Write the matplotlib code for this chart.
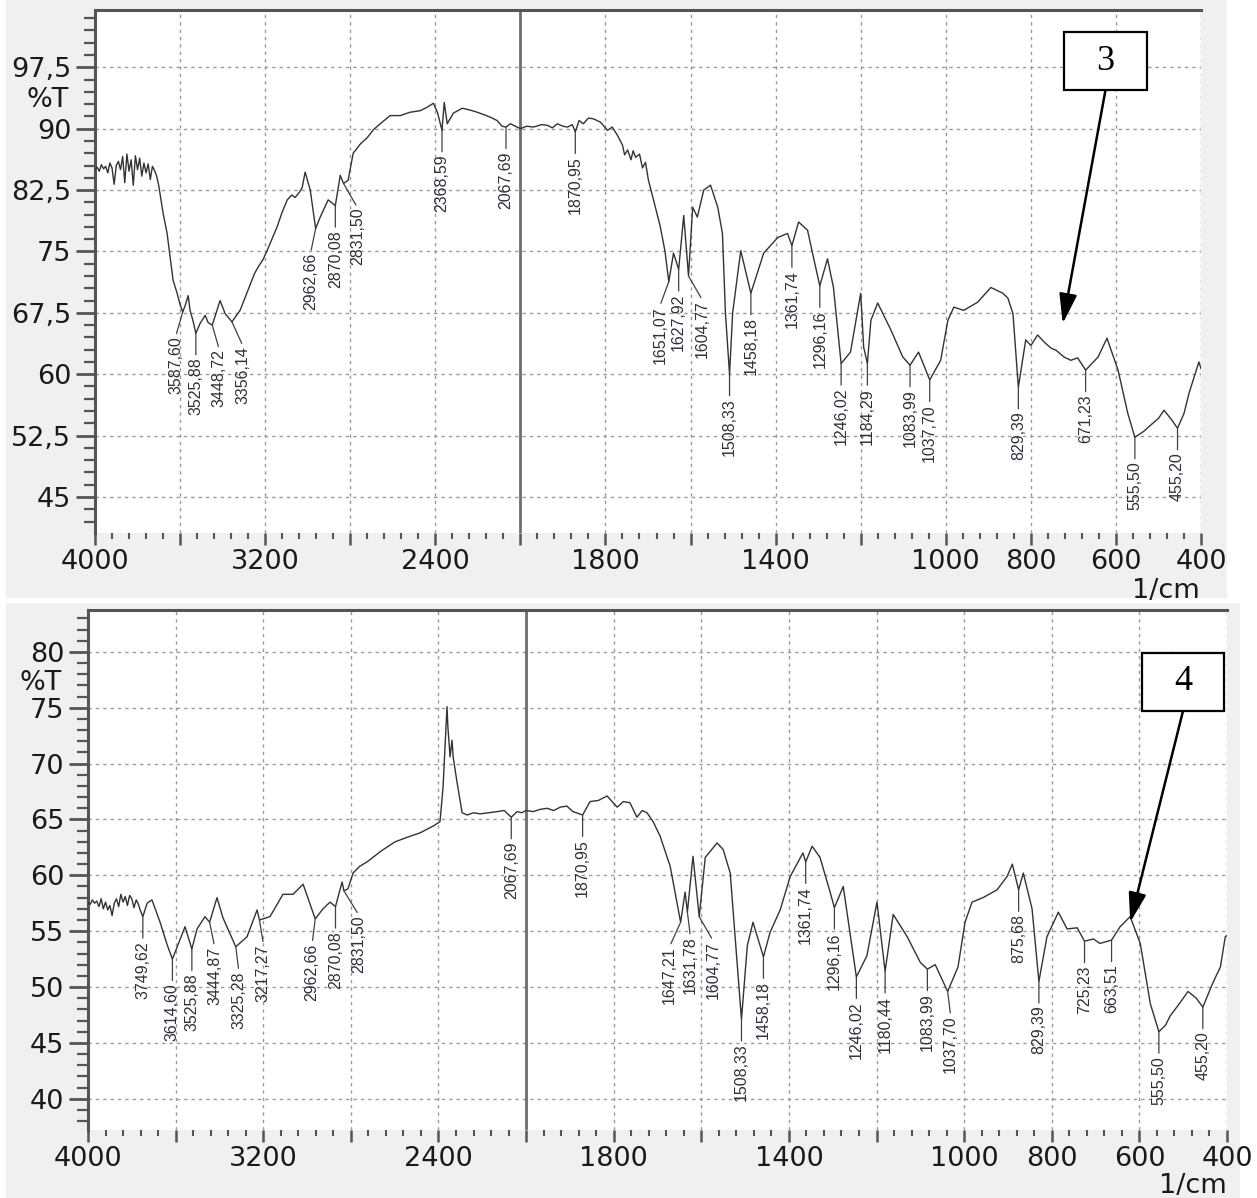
import numpy as np
import matplotlib
matplotlib.use("Agg")
import matplotlib.pyplot as plt
from matplotlib.patches import Rectangle

# ---- spectrum 3 (upper panel): wavenumber [1/cm], transmittance [%T] ----
wn3 = [4000, 3990, 3980, 3970, 3960, 3950, 3940, 3930, 3920, 3910, 3900, 3890, 3880, 3870,
       3860, 3850, 3840, 3830, 3820, 3810, 3800, 3790, 3780, 3770, 3760, 3750, 3740, 3730,
       3720, 3710, 3700, 3680, 3661, 3633, 3614, 3600, 3587.6, 3576, 3562, 3553, 3539,
       3525.88, 3506, 3482, 3468, 3448.72, 3412, 3388, 3356.14, 3318, 3280, 3250, 3233,
       3210, 3191, 3170, 3144, 3120, 3096, 3075, 3059, 3040, 3026, 3012, 2988, 2962.66,
       2941, 2904, 2870.08, 2847, 2831.5, 2810, 2786, 2750, 2720, 2690, 2659, 2612, 2565,
       2520, 2471, 2440, 2409, 2390, 2368.59, 2358, 2344, 2315, 2273, 2240, 2202, 2170,
       2141, 2110, 2086, 2067.69, 2047, 2024, 2000, 1985, 1969, 1950, 1936, 1925, 1913,
       1900, 1889, 1878, 1870.95, 1862, 1852, 1840, 1828, 1812, 1795, 1784, 1772, 1760,
       1755, 1748, 1740, 1735, 1729, 1720, 1713, 1706, 1699, 1687, 1671, 1660, 1651.07,
       1640, 1627.92, 1616, 1604.77, 1595, 1584, 1569, 1553, 1536, 1525, 1518, 1508.33,
       1501, 1482, 1458.18, 1428, 1395, 1372, 1361.74, 1346, 1325, 1312, 1296.16, 1278,
       1264, 1246.02, 1224, 1200, 1193, 1184.29, 1176, 1160, 1129, 1101, 1083.99, 1064,
       1037.7, 1012, 995, 981, 958, 925, 894, 866, 854, 842, 829.39, 812, 800, 784, 770,
       753, 740, 722, 706, 690, 671.23, 642, 621, 595, 572, 555.5, 535, 518, 500, 487,
       470, 455.2, 440, 428, 405, 400]
t3 = [85.0, 85.3, 84.8, 85.6, 85.1, 85.4, 84.6, 85.8, 85.2, 83.2, 85.5, 86.0, 85.0, 86.6,
      83.4, 86.9, 84.8, 86.2, 83.1, 86.7, 85.0, 86.4, 84.2, 85.8, 84.6, 85.7, 83.8, 85.4,
      84.9, 84.2, 83.0, 79.7, 77.2, 71.5, 69.9, 68.5, 67.6, 68.4, 69.6, 67.8, 66.5,
      65.0, 66.2, 67.2, 66.3, 66.0, 69.0, 67.4, 66.4, 67.8, 70.3, 72.3, 73.1,
      74.0, 75.1, 76.4, 78.0, 79.8, 81.3, 81.9, 81.6, 82.2, 82.8, 84.7, 82.5, 77.8,
      79.2, 81.3, 80.6, 84.3, 83.3, 83.7, 87.0, 88.2, 88.9, 89.9, 90.6, 91.6, 91.6,
      92.0, 92.2, 92.6, 93.1, 92.0, 89.8, 93.2, 90.6, 91.9, 92.5, 92.3, 92.0, 91.7,
      91.4, 91.0, 90.3, 90.2, 90.6, 90.3, 90.0, 90.3, 90.2, 90.5, 90.4, 90.1, 90.6,
      90.3, 90.2, 90.5, 89.6, 91.0, 90.6, 91.3, 91.2, 90.8, 89.8, 90.2, 89.2, 88.0,
      86.8, 87.4, 86.2, 87.3, 86.5, 86.9, 85.2, 85.9, 83.7, 81.3, 78.0, 75.0, 71.3,
      74.8, 72.8, 79.4, 72.0, 80.4, 79.2, 82.5, 83.1, 80.4, 77.2, 67.5, 60.0,
      67.5, 75.1, 69.9, 74.8, 76.7, 77.2, 75.7, 78.6, 77.6, 74.5, 70.8, 74.1,
      70.6, 61.3, 62.7, 69.9, 63.3, 61.3, 66.6, 68.7, 65.4, 62.1, 61.1, 62.7,
      59.3, 61.7, 66.6, 68.2, 67.8, 68.8, 70.6, 69.9, 69.3, 67.4, 58.4, 64.2, 63.5, 64.8, 64.0,
      63.2, 62.9, 62.1, 61.7, 62.0, 60.5, 62.1, 64.4, 60.5, 55.2, 52.3, 53.0, 53.8, 54.6, 55.6,
      54.5, 53.4, 55.2, 57.7, 61.5, 60.7]
peaks3 = [3587.60, 3525.88, 3448.72, 3356.14, 2962.66, 2870.08, 2831.50, 2368.59, 2067.69,
          1870.95, 1651.07, 1627.92, 1604.77, 1508.33, 1458.18, 1361.74, 1296.16, 1246.02,
          1184.29, 1083.99, 1037.70, 829.39, 671.23, 555.50, 455.20]

# ---- spectrum 4 (lower panel) ----
wn4 = [4000, 3990, 3980, 3970, 3960, 3950, 3940, 3930, 3920, 3910, 3900, 3890, 3880, 3870,
       3860, 3850, 3840, 3830, 3820, 3810, 3800, 3790, 3780, 3770, 3760, 3749.62, 3730,
       3708, 3671, 3639, 3614.6, 3589, 3557, 3525.88, 3502, 3466, 3444.87, 3411, 3384,
       3325.28, 3274, 3228, 3217.27, 3169, 3110, 3064, 3018, 2962.66, 2927, 2895, 2870.08,
       2840, 2831.5, 2813, 2790, 2760, 2726, 2660, 2598, 2543, 2484, 2425, 2393, 2379,
       2361, 2357, 2347, 2338, 2333, 2315, 2292, 2269, 2240, 2210, 2170, 2132, 2100,
       2067.69, 2041, 2020, 2000, 1984, 1968, 1952, 1937, 1922, 1907, 1893, 1870.95, 1854,
       1835, 1815, 1792, 1778, 1763, 1747, 1735, 1724, 1710, 1694, 1671, 1647.21, 1637,
       1631.78, 1619, 1604.77, 1591, 1564, 1550, 1534, 1508.33, 1495, 1482, 1458.18, 1443,
       1420, 1397, 1368, 1361.74, 1347, 1329, 1306, 1296.16, 1276, 1246.02, 1222, 1199,
       1180.44, 1162, 1130, 1100, 1083.99, 1066, 1037.7, 1014, 998, 982, 957, 925, 902,
       890, 875.68, 865, 845, 829.39, 811, 785, 765, 742, 725.23, 705, 690, 663.51, 644,
       621, 598, 575, 555.5, 540, 530, 507, 489, 470, 455.2, 432, 415, 404, 400]
t4 = [57.6, 57.4, 57.8, 57.5, 57.7, 57.2, 57.9, 57.0, 57.6, 56.9, 57.3, 56.4, 57.5, 57.9,
      57.2, 58.3, 57.6, 58.1, 57.3, 58.2, 57.9, 57.1, 57.8, 57.4, 56.8, 56.3, 57.5,
      57.8, 55.8, 53.8, 52.5, 53.8, 55.4, 53.4, 55.2, 56.3, 55.8, 58.0, 56.2,
      53.6, 54.5, 56.9, 56.0, 56.3, 58.3, 58.3, 59.2, 56.1, 57.0, 57.6, 57.2,
      59.4, 58.6, 58.8, 60.2, 60.8, 61.2, 62.2, 63.0, 63.4, 63.8, 64.4, 64.8, 67.9,
      75.1, 73.3, 70.6, 72.1, 70.6, 68.3, 65.6, 65.4, 65.6, 65.5, 65.6, 65.7, 65.8,
      65.2, 65.7, 65.6, 65.8, 65.7, 65.9, 66.0, 65.8, 66.1, 66.2, 65.7, 65.4, 66.6,
      66.7, 67.1, 66.1, 66.6, 66.5, 65.2, 65.8, 65.6, 64.8, 63.5, 60.8, 55.8, 58.5,
      56.7, 61.7, 56.3, 61.6, 62.9, 62.3, 60.2, 47.1, 53.7, 55.8, 52.7, 54.9,
      56.9, 59.9, 62.0, 61.2, 62.6, 61.6, 58.5, 57.1, 59.0, 50.9, 52.8, 57.6,
      51.4, 56.5, 54.5, 52.2, 51.6, 52.0, 49.6, 51.8, 55.8, 57.6, 58.0, 58.7, 59.9,
      61.0, 58.7, 60.2, 57.0, 50.5, 54.5, 56.7, 55.2, 55.3, 54.1, 54.3, 53.9, 54.2, 55.4,
      56.3, 53.9, 48.5, 46.0, 46.6, 47.4, 48.6, 49.6, 49.0, 48.2, 50.4, 51.8, 54.5, 54.6]
peaks4 = [3749.62, 3614.60, 3525.88, 3444.87, 3325.28, 3217.27, 2962.66, 2870.08, 2831.50,
          2067.69, 1870.95, 1647.21, 1631.78, 1604.77, 1508.33, 1458.18, 1361.74, 1296.16,
          1246.02, 1180.44, 1083.99, 1037.70, 875.68, 829.39, 725.23, 663.51, 555.50, 455.20]

yticks3 = [45, 52.5, 60, 67.5, 75, 82.5, 90, 97.5]
yticks4 = [40, 45, 50, 55, 60, 65, 70, 75, 80]
xmajor = [4000, 3600, 3200, 2800, 2400, 2000, 1800, 1600, 1400, 1200, 1000, 800, 600, 400]
xlabeled = [4000, 3200, 2400, 1800, 1400, 1000, 800, 600, 400]

# horizontal shift (px) of some peak labels, to keep them apart
nudge3 = {3587.60: -7, 3448.72: 7, 3356.14: 11, 2962.66: -5, 2831.50: 14,
          1651.07: -9, 1604.77: 14}
nudge4 = {3444.87: 5, 3325.28: 3, 3217.27: 4, 2962.66: -3, 2831.50: 15,
          1647.21: -11, 1631.78: 3, 1604.77: 14, 1037.70: 3}

W, H = 1257, 1198
DARK = "#555555"


def fwd(x):
    x = np.asarray(x, float)
    return np.where(x >= 2000, 2000 + (x - 2000) / 2.0, x)


def inv(u):
    u = np.asarray(u, float)
    return np.where(u >= 2000, 2000 + (u - 2000) * 2.0, u)


def comma(v):
    return ("%g" % v).replace(".", ",")


def fig_rect(x0, y0, x1, y1):
    # pixel box (top-left origin) -> figure fraction [l, b, w, h]
    return [x0 / W, 1 - y1 / H, (x1 - x0) / W, (y1 - y0) / H]


def draw_panel(ax, wn, t, peaks, nudge, yticks, ylim, yminor):
    ax.set_facecolor("white")
    ax.set_xscale("function", functions=(fwd, inv))
    ax.set_xlim(4000, 400)

    ax.set_xticks(xmajor)
    ax.set_xticklabels([str(v) if v in xlabeled else "" for v in xmajor])
    minor = [v for v in np.arange(4000, 2000, -80) if v not in xmajor]
    minor += [v for v in np.arange(2000, 400, -40) if v not in xmajor]
    ax.set_xticks(minor, minor=True)
    ax.set_yticks(yticks)
    ax.set_yticklabels([comma(v) for v in yticks])
    ax.set_yticks(np.arange(yticks[0] - 3 * yminor, ylim[1], yminor), minor=True)
    ax.set_ylim(*ylim)

    ax.tick_params(axis="both", which="both", direction="out", colors=DARK,
                   labelcolor="#1a1a1a", labelsize=19.5)
    ax.tick_params(axis="y", which="major", length=14, width=2.0, pad=3)
    ax.tick_params(axis="y", which="minor", length=8, width=1.6)
    ax.tick_params(axis="x", which="major", length=8.5, width=1.8, pad=3)
    ax.tick_params(axis="x", which="minor", length=4, width=1.5)

    for s in ("right", "bottom"):
        ax.spines[s].set_visible(False)
    ax.spines["top"].set_color(DARK)
    ax.spines["top"].set_linewidth(2.2)
    ax.spines["left"].set_color(DARK)
    ax.spines["left"].set_linewidth(2.2)

    ax.grid(True, which="major", color="#9a9a9a", linewidth=1.0,
            linestyle=(0, (2.4, 2.9)))
    ax.axvline(2000, color="#6e6e6e", linewidth=2.0, zorder=2)

    ax.plot(wn, t, color="#333333", linewidth=1.0, zorder=3)

    for p in peaks:
        tp = np.interp(p, wn[::-1], t[::-1])
        dx = nudge.get(p, 0) * 0.72
        ax.annotate(("%.2f" % p).replace(".", ","), xy=(p, tp),
                    xytext=(dx, -17.5), textcoords="offset points",
                    rotation=90, ha="center", va="top", fontsize=11.5,
                    family="Liberation Sans", color="#30303c", zorder=4,
                    arrowprops=dict(arrowstyle="-", color="#404040", lw=0.9,
                                    shrinkA=0, shrinkB=0, relpos=(0.5, 1.0)))


fig = plt.figure(figsize=(W / 100, H / 100), dpi=100, facecolor="white")
# grey panel backgrounds (behind the axes)
for x0, y0, x1, y1 in [(6, 0, 1227, 598), (6, 603, 1240, 1198)]:
    fig.patches.append(Rectangle((x0 / W, 1 - y1 / H), (x1 - x0) / W, (y1 - y0) / H,
                                 transform=fig.transFigure, facecolor="#f0f0f0",
                                 edgecolor="none", zorder=-5))

ax3 = fig.add_axes(fig_rect(95, 10, 1201, 533))
draw_panel(ax3, wn3, t3, peaks3, nudge3, yticks3, (40.6, 104.5), 1.5)
ax4 = fig.add_axes(fig_rect(88, 610, 1227, 1130))
draw_panel(ax4, wn4, t4, peaks4, nudge4, yticks4, (37.2, 83.75), 1.0)

for ax, ty in ((ax3, 93.5), (ax4, 77.2)):
    x_ax = -47 / (ax.get_position().width * W)
    ax.text(x_ax, ty, "%T", transform=ax.get_yaxis_transform(), ha="center",
            va="center", fontsize=19.5, color="#1a1a1a")

fig.text(1166 / W, 1 - 591 / H, "1/cm", ha="center", va="center", fontsize=19.5,
         color="#1a1a1a")
fig.text(1193 / W, 1 - 1186 / H, "1/cm", ha="center", va="center", fontsize=19.5,
         color="#1a1a1a")

# sample boxes with arrows
for ax, (bx0, by0, bx1, by1), name, tip in (
        (ax3, (1064, 32, 1147, 90), "3", (725, 66.2)),
        (ax4, (1142, 653, 1224, 711), "4", (621, 55.8))):
    fig.patches.append(Rectangle((bx0 / W, 1 - by1 / H), (bx1 - bx0) / W, (by1 - by0) / H,
                                 transform=fig.transFigure, facecolor="white",
                                 edgecolor="black", linewidth=1.6, zorder=5))
    fig.text((bx0 + bx1) / 2 / W, 1 - (by0 + by1) / 2 / H, name, ha="center",
             va="center", fontsize=26, family="Liberation Serif", zorder=6)
    ax.annotate("", xy=tip, xytext=((bx0 + bx1) / 2 / W, 1 - by1 / H),
                textcoords="figure fraction", zorder=6,
                arrowprops=dict(arrowstyle="-|>,head_length=1.0,head_width=0.3",
                                color="black", lw=1.8, mutation_scale=18,
                                shrinkA=0, shrinkB=0))

fig.savefig("out.png", dpi=100, facecolor=fig.get_facecolor())
